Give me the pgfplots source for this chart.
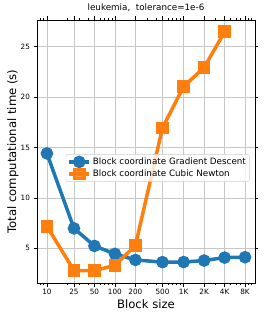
\documentclass[border=0pt]{standalone}
\usepackage{pgfplots}
\pgfplotsset{compat=1.18}
\usepackage{fontspec}
\setmainfont{DejaVu Sans}
\definecolor{mblue}{HTML}{1F77B4}
\definecolor{morange}{HTML}{FF7F0E}
\begin{document}
\begin{tikzpicture}
\useasboundingbox (-37bp,-36bp) rectangle (229bp,283bp);
\begin{axis}[
  at={(0,0)}, anchor=south west,
  scale only axis, width=218bp, height=263bp,
  xmode=log, xmin=7.15, xmax=11470, ymin=1.55, ymax=27.65,
  xtick={10,25,50,100,200,500,1024,2048,4096,8192},
  xticklabels={10,25,50,100,200,500,1K,2K,4K,8K},
  minor xtick={8,9,20,30,40,60,70,80,90,300,400,600,700,800,900,3000,5000,6000,7000,9000,10000},
  ytick={5,10,15,20,25},
  grid=major,
  major grid style={color=black!22, line width=0.7bp},
  tick align=outside,
  major tick length=3.5bp, minor tick length=2bp,
  tick style={black, line width=0.6bp},
  axis line style={line width=0.8bp},
  ticklabel style={font=\fontsize{7.3}{8.5}\selectfont},
  /pgf/number format/assume math mode=true,
  xticklabel style={yshift=1bp},
  title={leukemia,\ \ tolerance=1e-6},
  title style={at={(axis description cs:0.5,1)}, anchor=base, yshift=3.8bp, font=\fontsize{8.8}{10.5}\selectfont},
  xlabel={Block size},
  xlabel style={at={(axis description cs:0.5,-0.08)}, anchor=center, font=\fontsize{11.7}{14}\selectfont},
  ylabel={Total computational time (s)},
  ylabel style={at={(axis description cs:-0.11,0.5)}, anchor=center, font=\fontsize{11.7}{14}\selectfont},
  legend style={at={(0.132,0.49)}, anchor=north west, font=\fontsize{8.8}{10.5}\selectfont,
    draw=black!20, rounded corners=2bp, fill=white, fill opacity=0.8, text opacity=1,
    inner sep=1.5bp, row sep=0bp},
  legend cell align=left,
  legend image code/.code={\draw[mark repeat=2,mark phase=2,#1] plot coordinates {(0bp,0bp) (10bp,0bp) (20bp,0bp)};},
]
\addplot[mblue, line width=3.5bp, mark=*, mark size=4.5bp, mark options={solid}] coordinates {
  (10,14.41) (25,6.97) (50,5.23) (100,4.44) (200,3.84) (500,3.62) (1024,3.63) (2048,3.78) (4096,4.07) (8192,4.11)};
\addlegendentry{Block coordinate Gradient Descent}
\addplot[morange, line width=3.5bp, mark=square*, mark size=4.6bp, mark options={solid}] coordinates {
  (10,7.17) (25,2.79) (50,2.76) (100,3.32) (200,5.26) (500,16.94) (1024,21.05) (2048,22.93) (4096,26.48)};
\addlegendentry{Block coordinate Cubic Newton}
\end{axis}
\end{tikzpicture}
\end{document}
